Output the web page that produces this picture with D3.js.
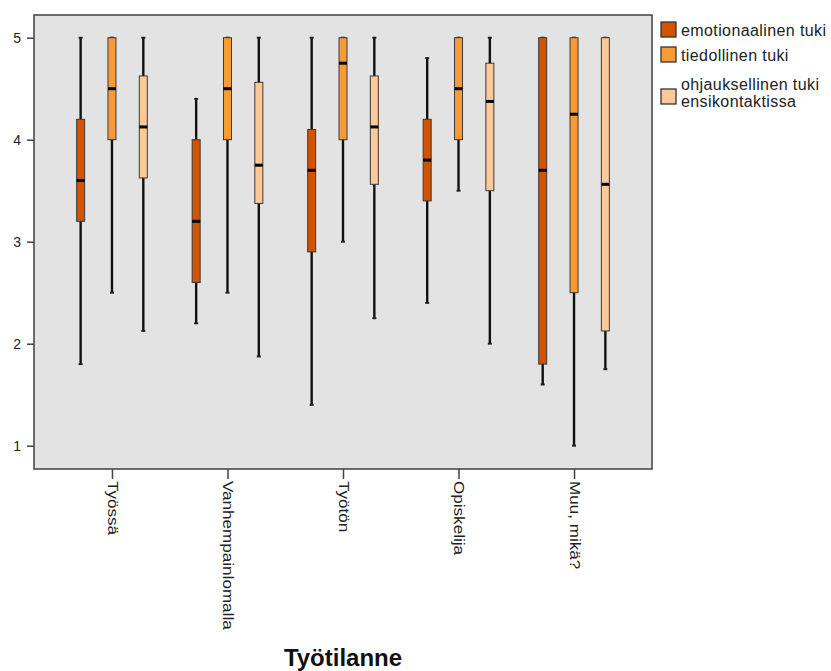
<!DOCTYPE html>
<html>
<head>
<meta charset="utf-8">
<script src="https://cdn.jsdelivr.net/npm/d3@7"></script>
<style>
  html, body { margin: 0; padding: 0; background: #ffffff; }
  svg { display: block; font-family: "Liberation Sans", Arial, sans-serif; }
</style>
</head>
<body>
<svg id="chart" width="831" height="671"></svg>
<script>
// Työtilanne groups on the x axis
const categories = ["Työssä", "Vanhempainlomalla", "Työtön", "Opiskelija", "Muu, mikä?"];

// Support types (one box per type inside each group)
const seriesNames = ["emotionaalinen tuki", "tiedollinen tuki", "ohjauksellinen tuki ensikontaktissa"];
const seriesLegendLines = [["emotionaalinen tuki"], ["tiedollinen tuki"], ["ohjauksellinen tuki", "ensikontaktissa"]];
const seriesColors = ["#d25300", "#fa9a36", "#fec996"];

// Box statistics per group: [min, Q1, median, Q3, max]
const emotionaalinen = [
  [1.8, 3.2, 3.6, 4.2, 5],
  [2.2, 2.6, 3.2, 4.0, 4.4],
  [1.4, 2.9, 3.7, 4.1, 5],
  [2.4, 3.4, 3.8, 4.2, 4.8],
  [1.6, 1.8, 3.7, 5, 5]
];
const tiedollinen = [
  [2.5, 4, 4.5, 5, 5],
  [2.5, 4, 4.5, 5, 5],
  [3, 4, 4.75, 5, 5],
  [3.5, 4, 4.5, 5, 5],
  [1, 2.5, 4.25, 5, 5]
];
const ohjauksellinen = [
  [2.125, 3.625, 4.125, 4.625, 5],
  [1.875, 3.375, 3.75, 4.5625, 5],
  [2.25, 3.5625, 4.125, 4.625, 5],
  [2, 3.5, 4.375, 4.75, 5],
  [1.75, 2.125, 3.5625, 5, 5]
];
const seriesValues = [emotionaalinen, tiedollinen, ohjauksellinen];

const yTicks = [1, 2, 3, 4, 5];
const xTitle = "Työtilanne";

// Layout
const plot = { left: 34, right: 652, top: 15, bottom: 469 };
const boxWidth = 8;

const svg = d3.select("#chart");

const x0 = d3.scalePoint().domain(categories).range([plot.left, plot.right]).padding(0.675);
const x1 = d3.scaleBand().domain(seriesNames).range([-47, 47]);
const y = d3.scaleLinear().domain([1, 5]).range([445.7, 37.7]);

// Plot background
svg.append("rect")
  .attr("x", plot.left).attr("y", plot.top)
  .attr("width", plot.right - plot.left).attr("height", plot.bottom - plot.top)
  .attr("fill", "#e3e3e3");

// Boxes
const rows = [];
seriesNames.forEach((s, si) => {
  categories.forEach((c, ci) => {
    const v = seriesValues[si][ci];
    rows.push({ series: s, si, cat: c, min: v[0], q1: v[1], med: v[2], q3: v[3], max: v[4] });
  });
});

const g = svg.append("g");
const items = g.selectAll("g.box").data(rows).join("g")
  .attr("class", "box")
  .attr("transform", d => `translate(${x0(d.cat) + x1(d.series) + x1.bandwidth() / 2},0)`);

// whisker line
items.append("line")
  .attr("x1", 0).attr("x2", 0)
  .attr("y1", d => y(d.min)).attr("y2", d => y(d.max))
  .attr("stroke", "#111").attr("stroke-width", 2.4);

// whisker end caps
items.append("line")
  .attr("x1", -2).attr("x2", 2)
  .attr("y1", d => y(d.max)).attr("y2", d => y(d.max))
  .attr("stroke", "#222").attr("stroke-width", 2);
items.append("line")
  .attr("x1", -2).attr("x2", 2)
  .attr("y1", d => y(d.min)).attr("y2", d => y(d.min))
  .attr("stroke", "#222").attr("stroke-width", 2);

// box
items.append("rect")
  .attr("x", -boxWidth / 2).attr("width", boxWidth)
  .attr("y", d => y(d.q3)).attr("height", d => y(d.q1) - y(d.q3))
  .attr("fill", d => seriesColors[d.si])
  .attr("stroke", "#3a3a3a").attr("stroke-width", 1);

// median
items.append("line")
  .attr("x1", -boxWidth / 2).attr("x2", boxWidth / 2)
  .attr("y1", d => y(d.med)).attr("y2", d => y(d.med))
  .attr("stroke", "#000").attr("stroke-width", 3);

// Frame
svg.append("rect")
  .attr("x", plot.left).attr("y", plot.top)
  .attr("width", plot.right - plot.left).attr("height", plot.bottom - plot.top)
  .attr("fill", "none").attr("stroke", "#4a4a4a").attr("stroke-width", 1.6);

// Y axis
const yAxis = svg.append("g")
  .attr("transform", `translate(${plot.left},0)`)
  .call(d3.axisLeft(y).tickValues(yTicks).tickFormat(d3.format("d")).tickSize(7).tickPadding(6));
yAxis.select(".domain").remove();
yAxis.selectAll(".tick line").attr("stroke", "#444").attr("stroke-width", 1.5);
yAxis.selectAll(".tick text")
  .attr("fill", "#222").style("font-size", "14px")
  .style("font-family", "'Liberation Sans', Arial, sans-serif");

// X axis
const xAxis = svg.append("g")
  .attr("transform", `translate(0,${plot.bottom})`)
  .call(d3.axisBottom(x0).tickSize(10).tickPadding(0));
xAxis.select(".domain").remove();
xAxis.selectAll(".tick line").attr("stroke", "#444").attr("stroke-width", 1.5);
xAxis.selectAll(".tick text")
  .attr("x", 0).attr("y", 0).attr("dy", "0.35em")
  .attr("text-anchor", "start")
  .attr("transform", "translate(0,12) rotate(90) scale(1.22,1)")
  .attr("fill", "#222").style("font-size", "14px")
  .style("font-family", "'Liberation Sans', Arial, sans-serif");

// X axis title
svg.append("text")
  .attr("x", (plot.left + plot.right) / 2).attr("y", 666)
  .attr("text-anchor", "middle")
  .style("font-size", "24px").style("font-weight", "bold")
  .attr("fill", "#111")
  .text(xTitle);

// Legend
const legendY = [22, 47, 89];
const legend = svg.append("g");
seriesNames.forEach((s, i) => {
  const lg = legend.append("g").attr("transform", `translate(661,${legendY[i]})`);
  lg.append("rect")
    .attr("x", 0).attr("y", 0).attr("width", 15).attr("height", 15)
    .attr("fill", seriesColors[i]).attr("stroke", "#333").attr("stroke-width", 1.3);
  const lines = seriesLegendLines[i];
  const firstBaseline = lines.length === 1 ? 13.5 : 1;
  lines.forEach((t, k) => {
    lg.append("text")
      .attr("x", 20).attr("y", firstBaseline + k * 17)
      .style("font-size", "16px").style("letter-spacing", "0.4px")
      .attr("fill", "#222")
      .text(t);
  });
});
</script>
</body>
</html>
